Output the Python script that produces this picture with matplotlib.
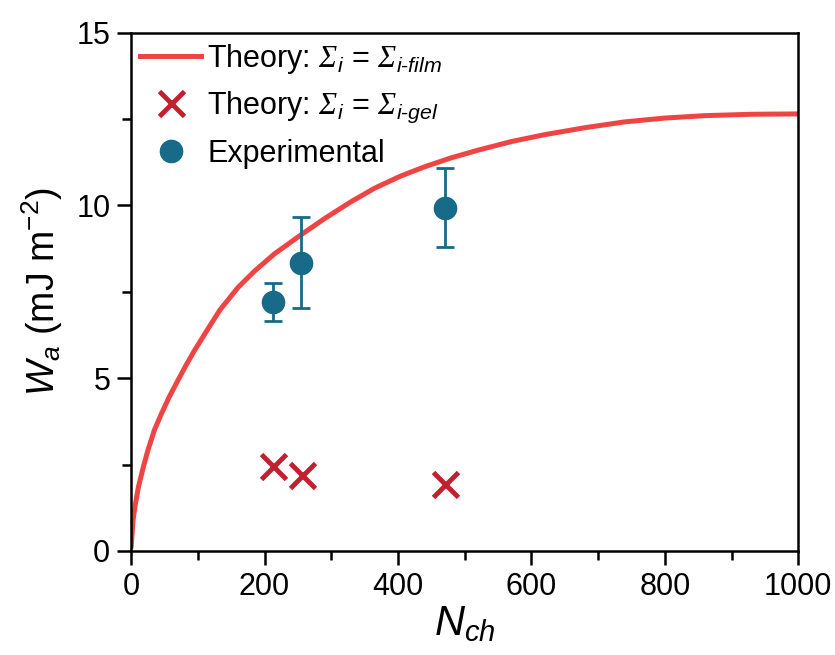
import matplotlib
matplotlib.use('Agg')
import matplotlib.pyplot as plt
from matplotlib.lines import Line2D
from matplotlib.ticker import MultipleLocator

plt.rcParams['font.family'] = ['Liberation Sans', 'DejaVu Sans']
plt.rcParams['mathtext.fontset'] = 'custom'
plt.rcParams['mathtext.rm'] = 'Liberation Sans'
plt.rcParams['mathtext.it'] = 'Liberation Sans:italic'
# slanted capital sigma (mathit keeps Greek capitals upright)
plt.rcParams['mathtext.sf'] = 'Liberation Serif:italic'

# Theory curve (Sigma_i = Sigma_i-film)
n_film = [0, 3, 6, 11, 18, 25, 35, 45, 57, 70, 82, 95, 115, 133, 160, 185,
          215, 254, 290, 329, 365, 404, 440, 480, 520, 570, 620, 680, 740,
          800, 860, 930, 1000]
w_film = [0.1, 0.9, 1.3, 1.85, 2.4, 2.9, 3.5, 3.95, 4.45, 4.93, 5.36, 5.8,
          6.42, 6.97, 7.62, 8.1, 8.6, 9.14, 9.62, 10.1, 10.5, 10.85, 11.12,
          11.38, 11.6, 11.85, 12.05, 12.25, 12.42, 12.53, 12.6, 12.64, 12.65]

# Theory points (Sigma_i = Sigma_i-gel)
n_gel = [212, 256, 471]
w_gel = [2.45, 2.19, 1.93]

# Experimental points with error bars
n_exp = [212, 255, 471]
w_exp = [7.21, 8.34, 9.94]
err_low = [0.56, 1.30, 1.15]
err_high = [0.55, 1.33, 1.15]

red_line = '#EE4444'
red_cross = '#C2202E'
teal = '#176A88'

fig = plt.figure(figsize=(8.35, 6.55), dpi=100)
ax = fig.add_axes([0.157, 0.159, 0.799, 0.791])

ax.plot(n_film, w_film, color=red_line, lw=3.6, solid_capstyle='round',
        solid_joinstyle='round')
ax.plot(n_gel, w_gel, ls='none', marker='x', ms=18, mew=3.5, color=red_cross)
ax.errorbar(n_exp, w_exp, yerr=[err_low, err_high], fmt='o', ms=16, color=teal,
            ecolor=teal, elinewidth=2, capsize=6.5, capthick=2)

ax.set_xlim(0, 1000)
ax.set_ylim(0, 15)
ax.xaxis.set_major_locator(MultipleLocator(200))
ax.xaxis.set_minor_locator(MultipleLocator(100))
ax.yaxis.set_major_locator(MultipleLocator(5))
ax.yaxis.set_minor_locator(MultipleLocator(2.5))
ax.tick_params(which='major', direction='out', length=10, width=1.8, labelsize=22, pad=5)
ax.tick_params(which='minor', direction='out', length=6.5, width=1.8)
for s in ax.spines.values():
    s.set_linewidth(1.8)

ax.set_xlabel(r'$\mathit{N}_{\mathit{ch}}$', fontsize=30, labelpad=2)
ax.set_ylabel(r'$\mathit{W}_{\mathit{a}}$ (mJ m$^{-2}$)', fontsize=27, labelpad=8)

# legend proxies (no error bar in the key)
handles = [
    Line2D([], [], color=red_line, lw=3.6),
    Line2D([], [], ls='none', marker='x', ms=18, mew=3.5, color=red_cross),
    Line2D([], [], ls='none', marker='o', ms=16, color=teal),
]
labels = [
    r'Theory: $\mathsf{Σ}_{\mathit{i}}$ = $\mathsf{Σ}_{\mathit{i}\text{-}\mathit{film}}$',
    r'Theory: $\mathsf{Σ}_{\mathit{i}}$ = $\mathsf{Σ}_{\mathit{i}\text{-}\mathit{gel}}$',
    'Experimental',
]
ax.legend(handles, labels, loc='upper left', bbox_to_anchor=(0.0, 1.0),
          frameon=False, fontsize=22, handlelength=2.0, handletextpad=0.2,
          labelspacing=0.45, borderpad=0.3, borderaxespad=0)

fig.savefig('out.png', dpi=100)
